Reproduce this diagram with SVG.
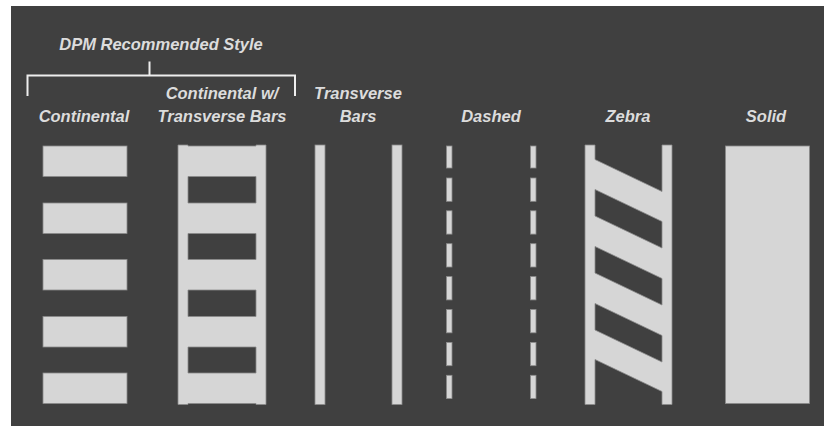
<svg xmlns="http://www.w3.org/2000/svg" width="824" height="426" viewBox="0 0 824 426">
<style>
.mk{fill:#d6d6d6;stroke:#8a8a8a;stroke-width:0.8}
.lbl{font-family:"Liberation Sans",Arial,sans-serif;font-weight:bold;font-style:italic;font-size:16.5px;fill:#dcdcdc;text-anchor:middle}
.br{fill:none;stroke:#eeeeee;stroke-width:2}
</style>
<rect x="0" y="0" width="824" height="426" fill="#ffffff"/>
<rect x="11" y="6" width="813" height="420" fill="#404040"/>
<g id="connectors">
<path class="br" d="M27.5,96 V75.5 H295 V96 M149.5,61.5 V75.5"/>
</g>
<g id="heading">
<text class="lbl" x="161" y="50">DPM Recommended Style</text>
</g>
<g id="continental">
<text class="lbl" x="84" y="121.5">Continental</text>
<rect class="mk" x="43" y="146" width="84" height="30.5"/>
<rect class="mk" x="43" y="203" width="84" height="30.5"/>
<rect class="mk" x="43" y="259.5" width="84" height="30.5"/>
<rect class="mk" x="43" y="316.5" width="84" height="30.5"/>
<rect class="mk" x="43" y="373" width="84" height="30.5"/>
</g>
<g id="continental-transverse">
<text class="lbl" x="222" y="99">Continental w/</text>
<text class="lbl" x="222" y="121.5">Transverse Bars</text>
<path class="mk" fill-rule="evenodd" d="M178,145 H188 V146 H256 V145 H266 V404.5 H256 V403.5 H188 V404.5 H178 Z M188,176.5 H256 V203 H188 Z M188,233.5 H256 V259.5 H188 Z M188,290 H256 V316.5 H188 Z M188,347 H256 V373 H188 Z"/>
</g>
<g id="transverse">
<text class="lbl" x="358" y="99">Transverse</text>
<text class="lbl" x="358" y="121.5">Bars</text>
<rect class="mk" x="315" y="145" width="10" height="259.5"/>
<rect class="mk" x="392" y="145" width="10" height="259.5"/>
</g>
<g id="dashed">
<text class="lbl" x="491" y="121.5">Dashed</text>
<rect class="mk" x="446.5" y="146" width="5.5" height="22"/>
<rect class="mk" x="446.5" y="178" width="5.5" height="23.3"/>
<rect class="mk" x="446.5" y="210.8" width="5.5" height="23.3"/>
<rect class="mk" x="446.5" y="243.7" width="5.5" height="23.3"/>
<rect class="mk" x="446.5" y="276.6" width="5.5" height="23.3"/>
<rect class="mk" x="446.5" y="309.5" width="5.5" height="23.3"/>
<rect class="mk" x="446.5" y="342.4" width="5.5" height="23.3"/>
<rect class="mk" x="446.5" y="375.3" width="5.5" height="23.3"/>
<rect class="mk" x="530.5" y="146" width="5.5" height="22"/>
<rect class="mk" x="530.5" y="178" width="5.5" height="23.3"/>
<rect class="mk" x="530.5" y="210.8" width="5.5" height="23.3"/>
<rect class="mk" x="530.5" y="243.7" width="5.5" height="23.3"/>
<rect class="mk" x="530.5" y="276.6" width="5.5" height="23.3"/>
<rect class="mk" x="530.5" y="309.5" width="5.5" height="23.3"/>
<rect class="mk" x="530.5" y="342.4" width="5.5" height="23.3"/>
<rect class="mk" x="530.5" y="375.3" width="5.5" height="23.3"/>
</g>
<g id="zebra">
<text class="lbl" x="628" y="121.5">Zebra</text>
<path class="mk" fill-rule="evenodd" d="M585,145 H595 V159.5 L662,191.5 V145 H672 V404.5 H662 V391.5 L595,359.5 V404.5 H585 Z M595,189.5 L662,221.5 V248 L595,216 Z M595,246.5 L662,278.5 V305 L595,273 Z M595,303.5 L662,335.5 V362 L595,330 Z"/>
</g>
<g id="solid">
<text class="lbl" x="766" y="121.5">Solid</text>
<rect class="mk" x="725.5" y="146" width="84" height="257.5"/>
</g>
</svg>
